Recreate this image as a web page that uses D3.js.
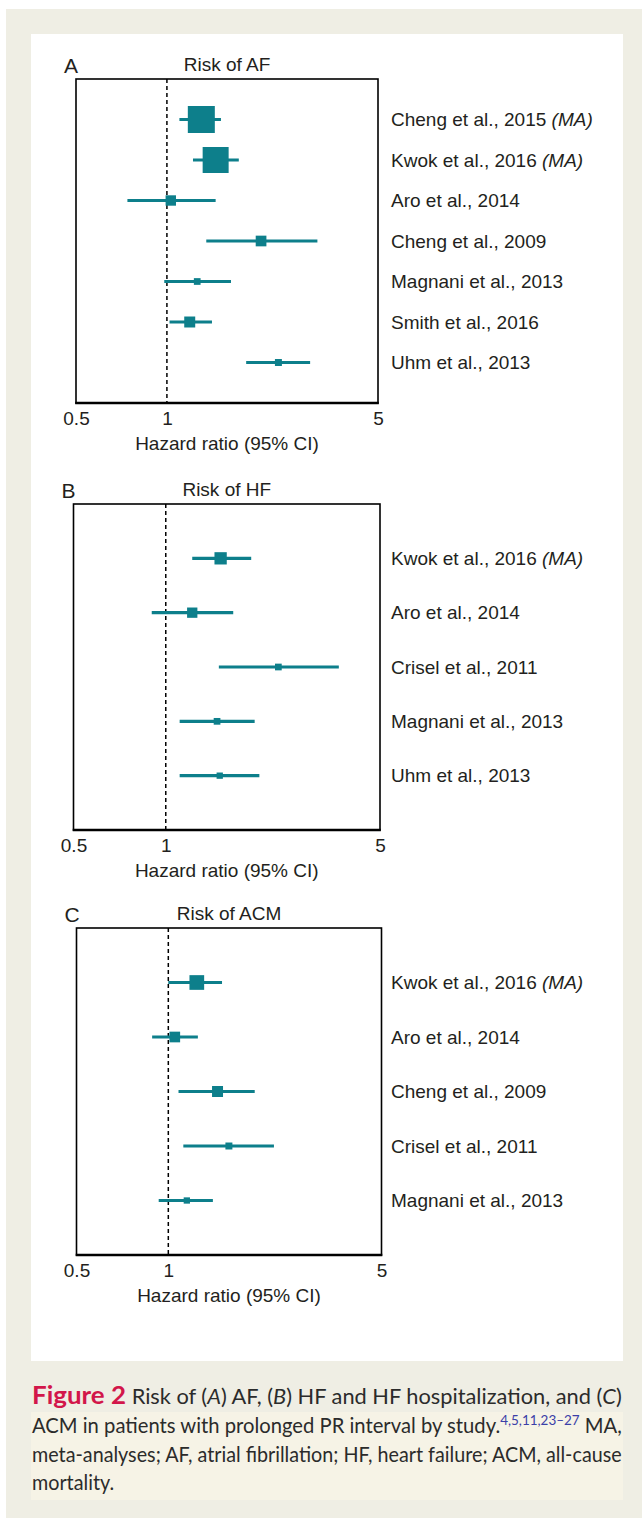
<!DOCTYPE html>
<html>
<head>
<meta charset="utf-8">
<script src="https://cdn.jsdelivr.net/npm/d3@7"></script>
<style>
  html, body { margin: 0; padding: 0; background: #ffffff; }
  svg { display: block; }
</style>
</head>
<body>
<div id="chart"></div>
<script>
// ---------------- DATA ----------------
const tickValues = [0.5, 1, 5];
const tickLabels = ["0.5", "1", "5"];
const axisTitle = "Hazard ratio (95% CI)";

// Panel A: Risk of AF
const afStudies = ["Cheng et al., 2015", "Kwok et al., 2016", "Aro et al., 2014", "Cheng et al., 2009", "Magnani et al., 2013", "Smith et al., 2016", "Uhm et al., 2013"];
const afMeta    = [true, true, false, false, false, false, false];
const afHR      = [1.30, 1.45, 1.03, 2.05, 1.26, 1.19, 2.34];
const afLow     = [1.10, 1.22, 0.74, 1.35, 0.98, 1.02, 1.83];
const afHigh    = [1.51, 1.73, 1.45, 3.15, 1.63, 1.41, 2.98];
const afWeight  = [81, 75, 12, 12.7, 5, 13.4, 5.4];

// Panel B: Risk of HF
const hfStudies = ["Kwok et al., 2016", "Aro et al., 2014", "Crisel et al., 2011", "Magnani et al., 2013", "Uhm et al., 2013"];
const hfMeta    = [true, false, false, false, false];
const hfHR      = [1.51, 1.22, 2.33, 1.47, 1.50];
const hfLow     = [1.22, 0.90, 1.49, 1.11, 1.11];
const hfHigh    = [1.90, 1.66, 3.67, 1.95, 2.02];
const hfWeight  = [16.8, 11.8, 5, 5, 4.4];

// Panel C: Risk of ACM
const acmStudies = ["Kwok et al., 2016", "Aro et al., 2014", "Cheng et al., 2009", "Crisel et al., 2011", "Magnani et al., 2013"];
const acmMeta    = [true, false, false, false, false];
const acmHR      = [1.24, 1.05, 1.45, 1.58, 1.15];
const acmLow     = [1.00, 0.885, 1.08, 1.12, 0.93];
const acmHigh    = [1.50, 1.25, 1.92, 2.22, 1.40];
const acmWeight  = [24, 12.7, 13.4, 5.4, 4.4];

// ---------------- LAYOUT ----------------
const W = 642, H = 1518;
const teal = "#0d7f8b";
const textColor = "#231f20";
const plotFont = "'Liberation Sans', Arial, Helvetica, sans-serif";
const capFont = "Lato, 'Open Sans', sans-serif";
const labelX = 391;

const panels = [
  { letter: "A", title: "Risk of AF", studies: afStudies, meta: afMeta, hr: afHR, lo: afLow, hi: afHigh, w: afWeight,
    left: 76, right: 378, top: 79, bottom: 403 },
  { letter: "B", title: "Risk of HF", studies: hfStudies, meta: hfMeta, hr: hfHR, lo: hfLow, hi: hfHigh, w: hfWeight,
    left: 73.5, right: 380, top: 504, bottom: 830 },
  { letter: "C", title: "Risk of ACM", studies: acmStudies, meta: acmMeta, hr: acmHR, lo: acmLow, hi: acmHigh, w: acmWeight,
    left: 76.5, right: 381.5, top: 928, bottom: 1255 }
];

const svg = d3.select("#chart").append("svg")
  .attr("width", W).attr("height", H)
  .attr("viewBox", `0 0 ${W} ${H}`);

// backgrounds
svg.append("rect").attr("x", 0).attr("y", 0).attr("width", W).attr("height", H).attr("fill", "#ffffff");
svg.append("rect").attr("x", 6).attr("y", 9).attr("width", W - 6).attr("height", H - 9).attr("fill", "#efeee4");
svg.append("rect").attr("x", 31).attr("y", 34).attr("width", 592).attr("height", 1327).attr("fill", "#ffffff");
svg.append("rect").attr("x", 31).attr("y", 1412).attr("width", 592).attr("height", 88).attr("fill", "#f6f3e6");

const sizeScale = d3.scaleSqrt().domain([0, 100]).range([0, 30]);

panels.forEach(p => {
  const g = svg.append("g");
  const x = d3.scaleLog().domain([0.5, 5]).range([p.left, p.right]);
  const y = d3.scalePoint().domain(p.studies.map((s, i) => i)).range([p.top, p.bottom]).padding(1);
  const rows = p.studies.map((s, i) => ({ name: s, meta: p.meta[i], hr: p.hr[i], lo: p.lo[i], hi: p.hi[i], w: p.w[i], i }));

  // reference line at HR = 1
  g.append("line")
    .attr("x1", x(1)).attr("x2", x(1))
    .attr("y1", p.top).attr("y2", p.bottom)
    .attr("stroke", "#000").attr("stroke-width", 1.5)
    .attr("stroke-dasharray", "4,3");

  // CI lines
  g.selectAll("line.ci").data(rows).join("line")
    .attr("class", "ci")
    .attr("x1", d => x(d.lo)).attr("x2", d => x(d.hi))
    .attr("y1", d => y(d.i)).attr("y2", d => y(d.i))
    .attr("stroke", teal).attr("stroke-width", 3.2);

  // squares
  g.selectAll("rect.pt").data(rows).join("rect")
    .attr("class", "pt")
    .attr("x", d => x(d.hr) - sizeScale(d.w) / 2)
    .attr("y", d => y(d.i) - sizeScale(d.w) / 2)
    .attr("width", d => sizeScale(d.w))
    .attr("height", d => sizeScale(d.w))
    .attr("fill", teal);

  // frame
  g.append("rect")
    .attr("x", p.left).attr("y", p.top)
    .attr("width", p.right - p.left).attr("height", p.bottom - p.top)
    .attr("fill", "none").attr("stroke", "#000").attr("stroke-width", 1.6);
  g.append("line")
    .attr("x1", p.left - 0.8).attr("x2", p.right + 0.8)
    .attr("y1", p.bottom).attr("y2", p.bottom)
    .attr("stroke", "#000").attr("stroke-width", 2.4);

  // x axis
  const axis = d3.axisBottom(x)
    .tickValues(tickValues)
    .tickFormat((d, i) => tickLabels[i])
    .tickSize(0).tickPadding(9);
  const ax = g.append("g").attr("transform", `translate(0,${p.bottom})`).call(axis);
  ax.select(".domain").remove();
  ax.selectAll("text")
    .attr("font-family", plotFont).attr("font-size", 19).attr("fill", textColor);

  // axis title
  g.append("text")
    .attr("x", (p.left + p.right) / 2).attr("y", p.bottom + 47)
    .attr("text-anchor", "middle")
    .attr("font-family", plotFont).attr("font-size", 19).attr("fill", textColor)
    .text(axisTitle);

  // panel letter & title
  g.append("text")
    .attr("x", p.left - 12).attr("y", p.top - 6)
    .attr("font-family", plotFont).attr("font-size", 21).attr("fill", textColor)
    .text(p.letter);
  g.append("text")
    .attr("x", (p.left + p.right) / 2).attr("y", p.top - 8)
    .attr("text-anchor", "middle")
    .attr("font-family", plotFont).attr("font-size", 19).attr("fill", textColor)
    .text(p.title);

  // study labels
  const lbl = g.selectAll("text.lbl").data(rows).join("text")
    .attr("class", "lbl")
    .attr("x", labelX).attr("y", d => y(d.i))
    .attr("dy", "0.35em")
    .attr("font-family", plotFont).attr("font-size", 19).attr("fill", textColor);
  lbl.append("tspan").text(d => d.name);
  lbl.filter(d => d.meta).append("tspan").attr("font-style", "italic").text(" (MA)");
});

// ---------------- CAPTION ----------------
const capLeft = 32, capRight = 622;
const capLines = [
  { y: 1404, justify: true, parts: [
    { t: "Figure 2", bold: true, color: "#d2164a", size: 25 },
    { t: " Risk of (" }, { t: "A", it: true }, { t: ") AF, (" }, { t: "B", it: true },
    { t: ") HF and HF hospitalization, and (" }, { t: "C", it: true }, { t: ")" } ] },
  { y: 1433, justify: true, parts: [
    { t: "ACM in patients with prolonged PR interval by study." },
    { t: "4,5,11,23–27", sup: true, color: "#3b3fa8", size: 14 },
    { t: " MA," } ] },
  { y: 1462, justify: true, parts: [
    { t: "meta-analyses; AF, atrial fibrillation; HF, heart failure; ACM, all-cause" } ] },
  { y: 1490, justify: false, parts: [ { t: "mortality." } ] }
];

const capG = svg.append("g");
let lastScale = 0.85;
capLines.forEach(line => {
  const t = capG.append("text")
    .attr("x", 0).attr("y", 0)
    .attr("font-family", capFont).attr("font-size", 21).attr("fill", "#2b2b2b");
  line.parts.forEach(pt => {
    const s = t.append("tspan").text(pt.t);
    if (pt.bold) s.attr("font-weight", "bold");
    if (pt.it) s.attr("font-style", "italic");
    if (pt.color) s.attr("fill", pt.color);
    if (pt.size) s.attr("font-size", pt.size);
    if (pt.sup) { s.attr("dy", -8); }
  });
  t.selectAll("tspan").each(function(d, i) {
    if (i > 0 && line.parts[i - 1].sup) d3.select(this).attr("dy", 8);
  });
  const bw = t.node().getBBox().width;
  const sx = line.justify ? (capRight - capLeft) / bw : lastScale;
  if (line.justify) lastScale = sx;
  t.attr("transform", `translate(${capLeft},${line.y}) scale(${sx},1)`);
});
</script>
</body>
</html>
